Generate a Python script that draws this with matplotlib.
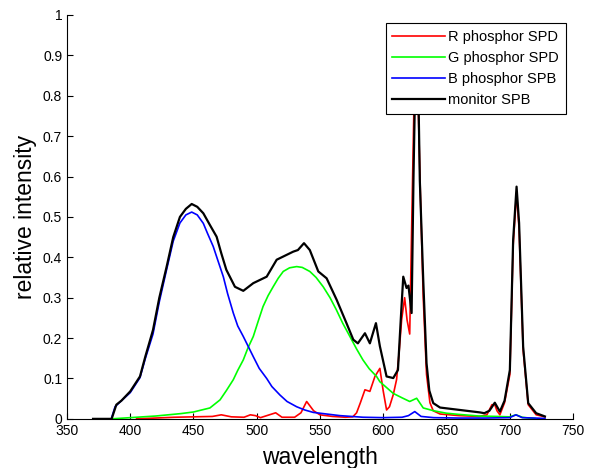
import matplotlib.pyplot as plt

plt.rcParams['font.family'] = ['Liberation Sans', 'DejaVu Sans']

# wavelength (nm) and relative intensity
wl_r = [405, 420, 435, 450, 465, 472, 480, 490, 495, 499, 503, 508, 515, 520, 530, 535, 539.5, 545,
        550, 560, 570, 576, 579, 582, 585.6, 589.5, 593.5, 597.4, 600, 602.7, 605, 608, 610.6, 612.5,
        614.6, 617, 618.9, 621, 623, 625, 626.5, 628, 629.5, 631.7, 634.3, 637, 639.6, 645, 660, 676,
        682, 686, 688.3, 690, 692.3, 696, 700.2, 702.8, 705.5, 707.5, 710.7, 714.7, 721, 727.9]
int_r = [0.0, 0.002, 0.004, 0.005, 0.006, 0.01, 0.005, 0.004, 0.01, 0.008, 0.003, 0.008, 0.015, 0.004,
         0.004, 0.015, 0.043, 0.02, 0.01, 0.006, 0.004, 0.005, 0.015, 0.04, 0.072, 0.068, 0.105, 0.125,
         0.07, 0.022, 0.03, 0.06, 0.097, 0.16, 0.245, 0.30, 0.245, 0.21, 0.55, 0.88, 0.92, 0.74, 0.55,
         0.30, 0.11, 0.04, 0.02, 0.012, 0.008, 0.006, 0.01, 0.035, 0.035, 0.02, 0.01, 0.04, 0.11, 0.43,
         0.56, 0.47, 0.17, 0.035, 0.01, 0.005]

wl_g = [385, 400, 420, 440, 450, 463, 471, 476, 481.5, 485, 489.4, 493, 497.3, 501, 505, 509, 513,
        517, 521, 526, 531.6, 536, 542, 547, 552.6, 558, 563, 568, 573.7, 579, 584, 589, 594.8, 597.4,
        608, 615, 621, 626.5, 631.7, 640, 650, 660, 676, 690, 700, 705, 710, 715, 720]
int_g = [0.0, 0.003, 0.007, 0.013, 0.017, 0.027, 0.047, 0.07, 0.097, 0.12, 0.146, 0.175, 0.204, 0.24,
         0.278, 0.305, 0.327, 0.348, 0.365, 0.374, 0.377, 0.375, 0.365, 0.35, 0.327, 0.30, 0.27, 0.237,
         0.204, 0.173, 0.146, 0.124, 0.105, 0.092, 0.063, 0.052, 0.043, 0.051, 0.027, 0.02, 0.014,
         0.011, 0.007, 0.006, 0.005, 0.01, 0.004, 0.002, 0.001]

wl_b = [385, 388, 392, 400, 407.7, 412, 418, 423, 428.8, 434, 439.3, 444, 448.6, 453, 457.8, 461,
        465.6, 469, 473.6, 477, 481.5, 485, 489.4, 497.3, 502, 507.9, 512, 518.4, 524, 531.6, 538,
        544.7, 565.8, 584, 600, 615, 620, 625, 630, 640, 660, 680, 700, 705, 710, 720, 728]
int_b = [0.0, 0.03, 0.042, 0.065, 0.102, 0.15, 0.21, 0.29, 0.37, 0.44, 0.485, 0.505, 0.512, 0.505,
         0.484, 0.46, 0.427, 0.395, 0.352, 0.31, 0.262, 0.23, 0.204, 0.154, 0.125, 0.10, 0.08, 0.059,
         0.043, 0.03, 0.022, 0.016, 0.008, 0.004, 0.003, 0.004, 0.008, 0.018, 0.006, 0.003, 0.002,
         0.002, 0.003, 0.01, 0.003, 0.002, 0.001]

wl_m = [370.6, 385.3, 389, 393, 400, 407.7, 412, 418, 423, 428.8, 434, 439.3, 444, 448.6, 453, 457.8,
        463, 468.3, 472, 476, 482.8, 489.4, 497.3, 507.9, 515.8, 528.9, 532.6, 537.4, 542, 548.7,
        555.3, 563.2, 571, 576.4, 580, 585.6, 589.5, 594.3, 597.4, 602.7, 608, 611.7, 614, 615.9,
        618.5, 620, 622.5, 624, 626, 627.5, 629, 631.7, 634.3, 636.5, 639.6, 645, 660.7, 676.5, 680,
        684, 688.3, 692.3, 696, 700.2, 702.8, 705.5, 707.5, 710.7, 714.7, 721, 727.9]
int_m = [0.0, 0.0, 0.035, 0.045, 0.068, 0.105, 0.155, 0.22, 0.3, 0.377, 0.45, 0.50, 0.52, 0.532,
         0.525, 0.509, 0.48, 0.451, 0.41, 0.369, 0.327, 0.317, 0.336, 0.352, 0.394, 0.414, 0.418,
         0.435, 0.418, 0.365, 0.348, 0.295, 0.237, 0.196, 0.187, 0.212, 0.187, 0.237, 0.18, 0.105,
         0.101, 0.121, 0.25, 0.352, 0.324, 0.33, 0.262, 0.6, 0.95, 0.88, 0.59, 0.344, 0.138, 0.07,
         0.039, 0.028, 0.022, 0.016, 0.014, 0.02, 0.04, 0.018, 0.045, 0.121, 0.443, 0.575, 0.485,
         0.179, 0.039, 0.014, 0.006]

fig = plt.figure(figsize=(5.93, 4.68), dpi=100)
ax = fig.add_axes([0.113, 0.105, 0.853, 0.863])

ax.plot(wl_r, int_r, color=(1, 0, 0), lw=1.2, label='R phosphor SPD')
ax.plot(wl_g, int_g, color=(0, 1, 0), lw=1.2, label='G phosphor SPD')
ax.plot(wl_b, int_b, color=(0, 0, 1), lw=1.2, label='B phosphor SPB')
ax.plot(wl_m, int_m, color='black', lw=1.6, label='monitor SPB')

ax.set_xlim(350, 750)
ax.set_ylim(0, 1)
ax.set_xticks(range(350, 751, 50))
ax.set_yticks([i / 10 for i in range(11)])
ax.set_yticklabels(['0'] + ['%.1f' % (i / 10) for i in range(1, 10)] + ['1'])
ax.tick_params(direction='in', labelsize=10, length=4, width=0.8)
ax.spines['top'].set_visible(False)
ax.spines['right'].set_visible(False)

ax.set_xlabel('wavelength', fontsize=16.5, labelpad=6)
ax.set_ylabel('relative intensity', fontsize=16.5, labelpad=4)

leg = ax.legend(loc='upper right', bbox_to_anchor=(0.986, 0.980), borderaxespad=0, fontsize=10.5,
                fancybox=False, framealpha=1, facecolor='white', edgecolor='black', borderpad=0.45,
                handlelength=3.6, handletextpad=0.25, labelspacing=0.5)
leg.get_frame().set_linewidth(0.8)
leg.set_zorder(10)

fig.savefig('out.png', dpi=100)
